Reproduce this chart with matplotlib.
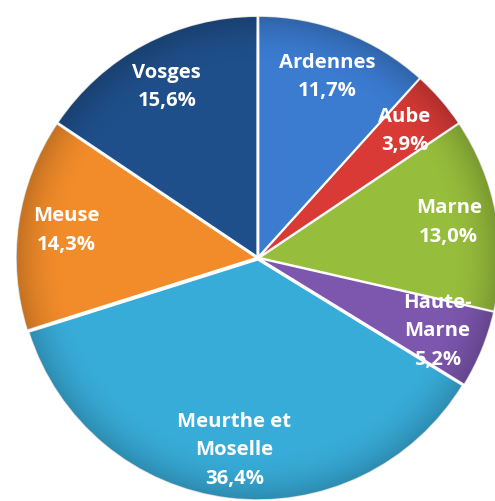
import numpy as np
import matplotlib.pyplot as plt

# Départements et parts (%)
regions = ['Ardennes', 'Aube', 'Marne', 'Haute-\nMarne', 'Meurthe et\nMoselle', 'Meuse', 'Vosges']
parts = [11.7, 3.9, 13.0, 5.2, 36.4, 14.3, 15.6]
couleurs = ['#3b7bd0', '#d93a36', '#97bd3c', '#7d56ae', '#38acd9', '#f28c2a', '#1f4f8a']

fig = plt.figure(figsize=(4.95, 5.01), dpi=100)
ax = fig.add_axes([0, 0, 1, 1])

etiquettes = [f"{r}\n{str(p).replace('.', ',')}%" for r, p in zip(regions, parts)]

wedges, texts = ax.pie(parts, labels=etiquettes, colors=couleurs, startangle=90,
                       counterclock=False, labeldistance=0.8, explode=[0.008] * len(parts),
                       wedgeprops=dict(edgecolor='white', linewidth=1.0))

# léger effet de relief : assombrissement vers le bord
n = 400
xx, yy = np.meshgrid(np.linspace(-1.1, 1.1, n), np.linspace(-1.1, 1.1, n))
rr = np.sqrt(xx**2 + yy**2)
ombre = np.clip((rr - 0.8) / 0.2, 0, 1) ** 2 * 0.18
rgba = np.zeros((n, n, 4))
rgba[..., 3] = ombre
for w in wedges:
    im = ax.imshow(rgba, extent=(-1.1, 1.1, -1.1, 1.1), origin='lower', zorder=w.get_zorder() + 0.1)
    im.set_clip_path(w)

for t in texts:
    t.set_ha('center')
    t.set_va('center')
    t.set_color('white')
    t.set_fontsize(14.6)
    t.set_fontweight('bold')
    t.set_family('Open Sans')
    t.set_linespacing(1.55)
    t.set_zorder(5)

ax.set_xlim(-1.075, 0.9875)
ax.set_ylim(-1.0125, 1.075)
ax.set_aspect('equal')
ax.axis('off')

fig.savefig('out.png', dpi=100)
